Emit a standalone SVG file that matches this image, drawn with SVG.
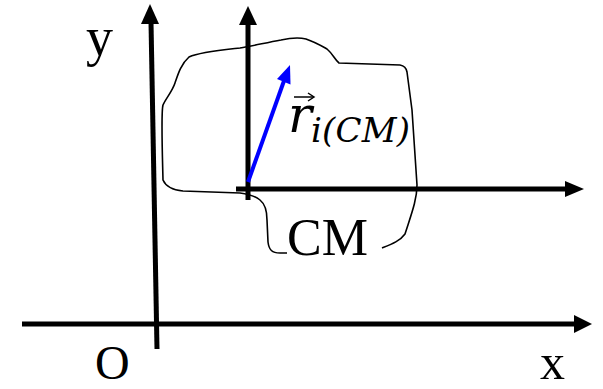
<svg xmlns="http://www.w3.org/2000/svg" width="603" height="389" viewBox="0 0 603 389">
<style>
.ax{stroke:#000;stroke-width:5;fill:none}
.hd{fill:#000}
.lbl{font-family:"Liberation Serif","Times New Roman",serif;fill:#000}
.math{font-family:"DejaVu Serif",serif;font-style:italic;fill:#000}
</style>
<rect width="603" height="389" fill="#fff"/>
<g id="blob">
<path d="M 382,248 C 392,244 400,241 405,234 C 411,215 417,200 417,185 L 412,110 L 407,72 Q 406,66 400,65 L 339,63 C 335,60 333,54 327,49 C 320,45 315,42 306,39 C 298,37 290,38 281,40 C 265,43 252,46 240,48 C 222,50 200,52 189,57 C 181,64 178,74 175,83 C 172,92 166,98 163,105 C 161,112 162,140 163,180 C 166,187 172,190 183,191 L 240,193 C 248,194 255,196 260,200 C 265,204 267,212 267,220 L 268,242 C 269,250 272,253 280,253 L 287,253" fill="none" stroke="#000" stroke-width="1.6"/>
</g>
<g id="connectors">
<line class="ax" x1="22" y1="324" x2="576" y2="324"/>
<polygon class="hd" points="574,315 592,324 574,333"/>
<line class="ax" x1="157" y1="349" x2="151" y2="22"/>
<polygon class="hd" points="141,24 150,4 159,24"/>
<line class="ax" x1="236" y1="189" x2="568" y2="189"/>
<polygon class="hd" points="565,181 584,189 565,197"/>
<line class="ax" x1="248" y1="200" x2="248" y2="23"/>
<polygon class="hd" points="239,25 248,6 257,25"/>
<line x1="248" y1="182" x2="285" y2="78" stroke="#0000ff" stroke-width="4"/>
<polygon points="277,79 290,65 290.5,84.5" fill="#0000ff"/>
</g>
<g id="labels">
<text class="lbl" x="86" y="55" font-size="54">y</text>
<text class="lbl" x="95" y="379" font-size="48">O</text>
<text class="lbl" x="540" y="379" font-size="50">x</text>
<text class="lbl" x="287" y="255" font-size="52">CM</text>
<text class="math" x="288" y="132" font-size="50">r</text>
<text class="math" x="311" y="142" font-size="34" textLength="99">i(CM)</text>
<line x1="294" y1="97" x2="313" y2="97" stroke="#000" stroke-width="1.5"/>
<path d="M 308,93 L 314,97 L 308,101" fill="none" stroke="#000" stroke-width="1.5"/>
</g>
</svg>
